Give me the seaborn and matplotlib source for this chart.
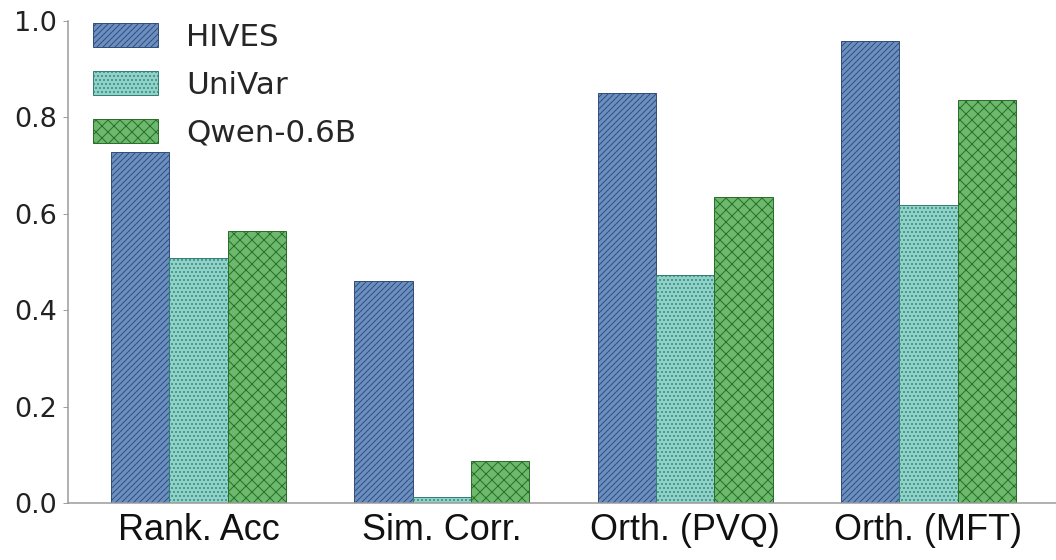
import matplotlib
matplotlib.use("Agg")
import matplotlib.pyplot as plt
import numpy as np
import pandas as pd
import seaborn as sns

metrics = ["Rank. Acc", "Sim. Corr.", "Orth. (PVQ)", "Orth. (MFT)"]
methods = ["HIVES", "UniVar", "Qwen-0.6B"]
hives = [0.727, 0.461, 0.851, 0.957]
univar = [0.507, 0.012, 0.472, 0.617]
qwen = [0.565, 0.088, 0.635, 0.835]

face_colors = ["#6b8fc1", "#8fd2c8", "#6cb96c"]
hatch_colors = ["#34507a", "#357f77", "#2a6f2d"]
hatches = ["////", "...", "xx"]

df = pd.DataFrame({
    "metric": metrics * 3,
    "method": [m for m in methods for _ in metrics],
    "value": hives + univar + qwen,
})

sns.set_style("ticks")
plt.rcParams["font.family"] = ["DejaVu Sans"]
plt.rcParams["hatch.linewidth"] = 1.0

fig = plt.figure(figsize=(1056 / 72, 560 / 72), dpi=72)
ax = fig.add_axes([0.0641, 0.1018, 0.9359, 0.8612])

sns.barplot(data=df, x="metric", y="value", hue="method", order=metrics,
            hue_order=methods, palette=face_colors, saturation=1,
            width=0.72, ax=ax, linewidth=1.0)

# hatch + edge colour per series
for container, hc, h in zip(ax.containers, hatch_colors, hatches):
    for bar in container:
        bar.set_hatch(h)
        bar.set_edgecolor(hc)

ax.set_xlim(-0.538, 3.524)
ax.set_ylim(0, 1.0)
ax.set_yticks(np.arange(0, 1.01, 0.2))
ax.set_xlabel("")
ax.set_ylabel("")
ax.tick_params(axis="y", labelsize=27, length=5, pad=6, color="#888888", labelcolor="#222222")
ax.tick_params(axis="x", length=0, pad=10)
for lab in ax.get_xticklabels():
    lab.set_fontfamily("Liberation Sans")
    lab.set_fontsize(36)
    lab.set_color("#111111")

sns.despine(ax=ax)
for s in ["left", "bottom"]:
    ax.spines[s].set_color("#999999")
    ax.spines[s].set_linewidth(1.5)

handles, labels = ax.get_legend_handles_labels()
for hd, hc, h in zip(handles, hatch_colors, hatches):
    hd.set_hatch(h)
    hd.set_edgecolor(hc)
ax.legend(handles, labels, loc="upper left", bbox_to_anchor=(0.013, 1.021),
          borderaxespad=0, frameon=False, fontsize=31, labelspacing=0.61,
          handlelength=2.1, handleheight=0.8, handletextpad=0.9)

fig.savefig("out.png", dpi=72)
